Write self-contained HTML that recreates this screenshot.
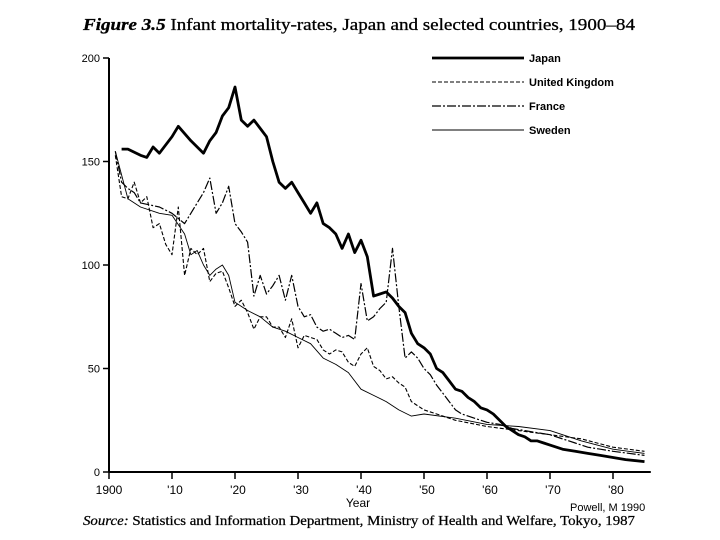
<!DOCTYPE html>
<html><head><meta charset="utf-8"><style>
html,body{margin:0;padding:0;background:#fff;}
svg{display:block;font-family:"Liberation Sans",sans-serif;}
</style></head><body>
<svg id="chart" width="720" height="540" viewBox="0 0 720 540" xmlns="http://www.w3.org/2000/svg">
<text x="83" y="30" font-family="Liberation Serif,serif" font-size="17" textLength="552" lengthAdjust="spacingAndGlyphs" stroke="#000" stroke-width="0.3"><tspan font-style="italic" font-weight="bold">Figure 3.5</tspan> Infant mortality-rates, Japan and selected countries, 1900–84</text>
<g id="axes"></g>
<g id="series"></g>
<g id="legend"></g>
<text x="358" y="507" font-size="12" text-anchor="middle">Year</text>
<text x="570" y="511" font-size="11">Powell, M 1990</text>
<text x="83" y="525" font-family="Liberation Serif,serif" font-size="13.5" textLength="552" lengthAdjust="spacingAndGlyphs" stroke="#000" stroke-width="0.25"><tspan font-style="italic">Source:</tspan> Statistics and Information Department, Ministry of Health and Welfare, Tokyo, 1987</text>
</svg>
<script>
const yTicks=[0,50,100,150,200];
const xTicks=[1900,1910,1920,1930,1940,1950,1960,1970,1980];
const xTickLabels=["1900","'10","'20","'30","'40","'50","'60","'70","'80"];
const seriesNames=["Japan","United Kingdom","France","Sweden"];
const japanYears=[1902,1903,1905,1906,1907,1908,1910,1911,1913,1915,1916,1917,1918,1919,1920,1921,1922,1923,1924,1925,1926,1927,1928,1929,1930,1931,1932,1933,1934,1935,1936,1937,1938,1939,1940,1941,1942,1943,1944,1945,1946,1947,1948,1949,1950,1951,1952,1953,1954,1955,1956,1957,1958,1959,1960,1961,1962,1963,1964,1965,1966,1967,1968,1969,1970,1972,1974,1976,1978,1980,1982,1985];
const japanValues=[156,156,153,152,157,154,162,167,160,154,160,164,172,176,186,170,167,170,166,162,150,140,137,140,135,130,125,130,120,118,115,108,115,106,112,104,85,86,87,84,80,77,67,62,60,57,50,48,44,40,39,36,34,31,30,28,25,22,20,18,17,15,15,14,13,11,10,9,8,7,6,5];
const ukYears=[1901,1902,1903,1904,1905,1906,1907,1908,1909,1910,1911,1912,1913,1914,1915,1916,1917,1918,1919,1920,1921,1922,1923,1924,1925,1926,1927,1928,1929,1930,1931,1932,1933,1934,1935,1936,1937,1938,1939,1940,1941,1942,1943,1944,1945,1946,1947,1948,1949,1950,1952,1955,1960,1965,1970,1975,1980,1985];
const ukValues=[153,133,132,140,130,133,118,120,110,105,128,95,108,105,108,92,96,97,89,80,83,77,69,75,75,70,70,65,74,60,66,65,64,59,57,59,58,53,51,57,60,51,49,45,46,43,41,34,32,30,28,25,22,20,18,16,12,10];
const franceYears=[1901,1902,1903,1904,1905,1908,1910,1912,1914,1915,1916,1917,1918,1919,1920,1921,1922,1923,1924,1925,1926,1927,1928,1929,1930,1931,1932,1933,1934,1935,1936,1937,1938,1939,1940,1941,1942,1943,1944,1945,1946,1947,1948,1949,1950,1951,1952,1953,1954,1955,1956,1958,1960,1962,1964,1966,1968,1970,1972,1974,1976,1978,1980,1985];
const franceValues=[155,140,137,135,130,128,125,120,130,135,142,125,130,138,120,116,111,85,95,86,90,95,83,95,80,75,76,70,68,69,67,65,66,64,91,73,75,79,82,108,80,55,58,55,50,47,42,38,34,30,28,26,24,23,21,20,19,18,16,14,12,11,10,8];
const swedenYears=[1901,1903,1905,1908,1910,1912,1913,1914,1915,1916,1917,1918,1919,1920,1922,1924,1926,1928,1930,1932,1934,1936,1938,1940,1942,1944,1946,1948,1950,1955,1960,1965,1970,1975,1980,1985];
const swedenValues=[155,132,128,125,124,115,105,107,100,95,98,100,95,82,78,75,70,68,65,62,55,52,48,40,37,34,30,27,28,26,23,22,20,15,11,9];

const NS="http://www.w3.org/2000/svg";
const X0=109, XR=6.3, Y0=472, YR=2.07;
function xs(yr){return X0+(yr-1900)*XR;}
function ys(v){return Y0-v*YR;}
function mk(tag,attrs,parent){const e=document.createElementNS(NS,tag);for(const k in attrs)e.setAttribute(k,attrs[k]);parent.appendChild(e);return e;}

const axes=document.getElementById('axes');
const yAxis=mk('line',{x1:X0,y1:ys(200),x2:X0,y2:Y0,stroke:'#000','stroke-width':2},axes);


const xAxis=mk('line',{x1:X0,y1:Y0,x2:xs(1986),y2:Y0,stroke:'#000','stroke-width':2},axes);


yTicks.forEach(v=>{
  const t=mk('line',{x1:X0-6,y1:ys(v),x2:X0,y2:ys(v),stroke:'#000','stroke-width':1.5},axes);
  
  
  const l=mk('text',{x:X0-9,y:ys(v)+4,'font-size':11,'text-anchor':'end'},axes);
  l.textContent=v;
  
  
});
xTicks.forEach((v,i)=>{
  const t=mk('line',{x1:xs(v),y1:Y0,x2:xs(v),y2:Y0+7,stroke:'#000','stroke-width':1.5},axes);
  
  
  const l=mk('text',{x:xs(v)+(i===0?0:3),y:Y0+22,'font-size':12,'text-anchor':'middle'},axes);
  l.textContent=xTickLabels[i];
  
  
});

const styles=[
  {w:2.8,dash:''},
  {w:1.1,dash:'4 2'},
  {w:1.2,dash:'9 2 2 2'},
  {w:0.9,dash:''}
];
const data=[[japanYears,japanValues],[ukYears,ukValues],[franceYears,franceValues],[swedenYears,swedenValues]];
const sg=document.getElementById('series');
data.forEach((d,i)=>{
  const pts=d[0].map((yr,j)=>xs(yr).toFixed(1)+','+ys(d[1][j]).toFixed(1)).join(' ');
  const p=mk('polyline',{points:pts,fill:'none',stroke:'#000','stroke-width':styles[i].w,'stroke-dasharray':styles[i].dash,'stroke-linejoin':'round'},sg);
  
  
});

const lg=document.getElementById('legend');
seriesNames.forEach((n,i)=>{
  const y=58+i*24;
  const l=mk('line',{x1:432,y1:y,x2:524,y2:y,stroke:'#000','stroke-width':styles[i].w,'stroke-dasharray':styles[i].dash},lg);
  
  
  const t=mk('text',{x:529,y:y+4,'font-size':11,'font-weight':'bold'},lg);
  t.textContent=n;
  
  
});
</script>
</body></html>
